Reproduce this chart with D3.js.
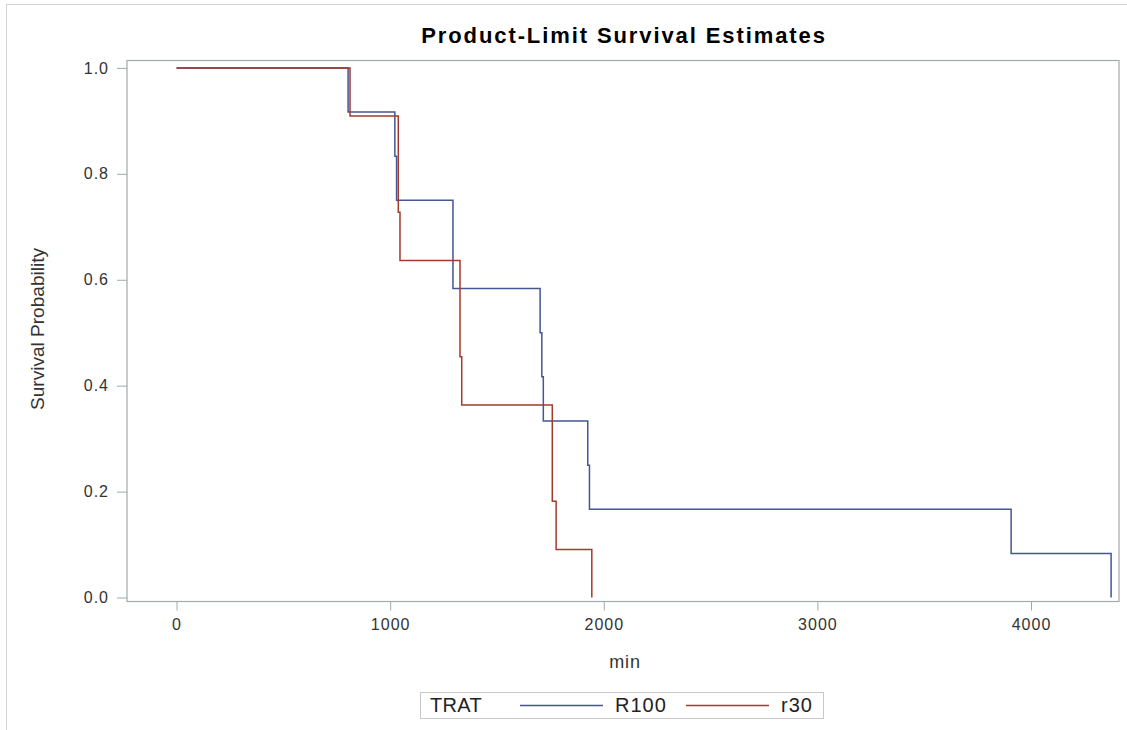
<!DOCTYPE html>
<html>
<head>
<meta charset="utf-8">
<script src="https://cdn.jsdelivr.net/npm/d3@7"></script>
<style>
  body { margin: 0; background: #fff; }
  svg { display: block; }
  .axis text { font-family: "Liberation Sans", Arial, sans-serif; font-size: 16px; fill: #333; letter-spacing: 1px; }
  .axis path, .axis line { stroke: #a3a9ad; }
</style>
</head>
<body>
<div id="chart"></div>
<script>
// Kaplan-Meier step data
var r100Times = [0, 803, 1022, 1030, 1294, 1702, 1710, 1717, 1925, 1933, 3907, 4375];
var r100Surv  = [1, 0.9167, 0.8333, 0.75, 0.5833, 0.5, 0.4167, 0.3333, 0.25, 0.1667, 0.0833, 0];
var r30Times  = [0, 812, 1038, 1046, 1327, 1335, 1759, 1777, 1944];
var r30Surv   = [1, 0.9091, 0.7273, 0.6364, 0.4545, 0.3636, 0.1818, 0.0909, 0];

var xTicks = [0, 1000, 2000, 3000, 4000];
var yTicks = [0, 0.2, 0.4, 0.6, 0.8, 1.0];
var groups = ["R100", "r30"];
var colors = ["#445694", "#a23a2e"];

var W = 1127, H = 730;
var margin = {top: 60.5, right: 8, bottom: 128.5, left: 127};
var width = W - margin.left - margin.right;
var height = H - margin.top - margin.bottom;

var svg = d3.select("#chart").append("svg")
  .attr("width", W)
  .attr("height", H);

// outer frame
svg.append("rect")
  .attr("x", 6.5).attr("y", 4.5)
  .attr("width", 1140).attr("height", 760)
  .attr("fill", "none")
  .attr("stroke", "#d4d4d4");

var x = d3.scaleLinear().domain([-232, 4412]).range([0, width]);
var y = d3.scaleLinear().domain([-0.0075, 1.014]).range([height, 0]);

var g = svg.append("g").attr("transform", `translate(${margin.left},${margin.top})`);

// x axis
var xAxis = g.append("g")
  .attr("class", "axis")
  .attr("transform", `translate(0,${height})`)
  .call(d3.axisBottom(x).tickValues(xTicks).tickSize(9).tickPadding(8).tickFormat(d3.format("d")));
xAxis.select(".domain").remove();

var yAxis = g.append("g")
  .attr("class", "axis")
  .call(d3.axisLeft(y).tickValues(yTicks).tickSize(10).tickPadding(8).tickFormat(d3.format(".1f")));
yAxis.select(".domain").remove();

// plot frame
g.append("rect")
  .attr("x", 0).attr("y", 0)
  .attr("width", width).attr("height", height)
  .attr("fill", "none")
  .attr("stroke", "#a3a9ad")
  .attr("stroke-width", 1.2);

var line = d3.line()
  .x(d => x(d[0]))
  .y(d => y(d[1]))
  .curve(d3.curveStepAfter);

var series = [
  d3.zip(r100Times, r100Surv),
  d3.zip(r30Times, r30Surv)
];

series.forEach(function(s, i) {
  g.append("path")
    .datum(s)
    .attr("fill", "none")
    .attr("stroke", colors[i])
    .attr("stroke-width", 1.5)
    .attr("d", line);
});

// title
svg.append("text")
  .attr("x", 624).attr("y", 43)
  .attr("text-anchor", "middle")
  .style("font-family", "Liberation Sans, Arial, sans-serif")
  .style("font-weight", "bold")
  .style("font-size", "22px")
  .style("letter-spacing", "1.9px")
  .attr("fill", "#000")
  .text("Product-Limit Survival Estimates");

// axis labels
svg.append("text")
  .attr("x", margin.left + x(2100)).attr("y", 668)
  .attr("text-anchor", "middle")
  .style("font-family", "Liberation Sans, Arial, sans-serif")
  .style("font-size", "18px")
  .style("letter-spacing", "1px")
  .attr("fill", "#333")
  .text("min");

svg.append("text")
  .attr("transform", "translate(44,329) rotate(-90)")
  .attr("text-anchor", "middle")
  .attr("textLength", 162)
  .attr("lengthAdjust", "spacingAndGlyphs")
  .style("font-family", "Liberation Sans, Arial, sans-serif")
  .style("font-size", "19px")
  .attr("fill", "#333")
  .text("Survival Probability");

// legend
var lg = svg.append("g");
lg.append("rect")
  .attr("x", 420.5).attr("y", 692.5)
  .attr("width", 403).attr("height", 26)
  .attr("fill", "#fff")
  .attr("stroke", "#c8c8c8");
lg.append("text")
  .attr("x", 430).attr("y", 712)
  .style("font-family", "Liberation Sans, Arial, sans-serif")
  .style("font-size", "20px")
  .style("letter-spacing", "0.3px")
  .attr("fill", "#222")
  .text("TRAT");

var legX = [520, 686];
groups.forEach(function(name, i) {
  lg.append("line")
    .attr("x1", legX[i]).attr("x2", legX[i] + 83)
    .attr("y1", 705.5).attr("y2", 705.5)
    .attr("stroke", colors[i])
    .attr("stroke-width", 1.5);
  lg.append("text")
    .attr("x", legX[i] + 95).attr("y", 712)
    .style("font-family", "Liberation Sans, Arial, sans-serif")
    .style("font-size", "20px")
    .style("letter-spacing", "1px")
    .attr("fill", "#222")
    .text(name);
});
</script>
</body>
</html>
